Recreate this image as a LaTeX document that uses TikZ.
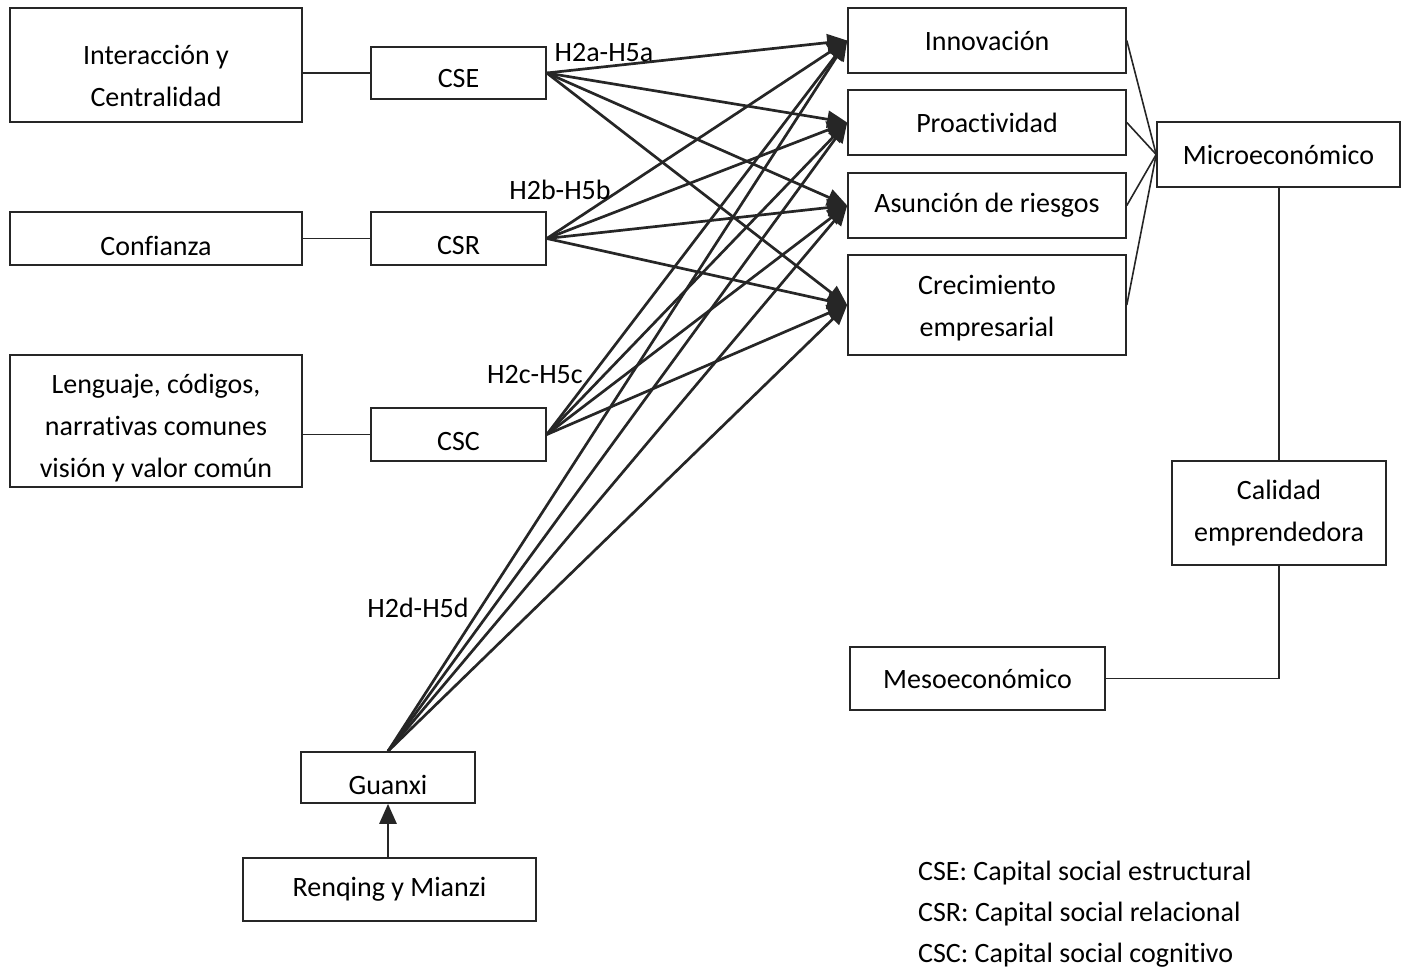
\documentclass[tikz,border=0pt]{standalone}
\usepackage{fontspec}
\setmainfont{Carlito}[Ligatures={NoCommon,NoContextual}]
\usetikzlibrary{arrows.meta}
\tikzset{
  box/.style={draw=black!85, line width=1.6pt, align=center, inner sep=2pt,
              font=\fontsize{28}{42}\selectfont},
  boxtext/.style={align=center, inner sep=0pt, font=\fontsize{28}{42}\selectfont},
  lbl/.style={font=\fontsize{28}{33}\selectfont, inner sep=0pt},
  link/.style={draw=black!85, line width=1.6pt},
  arr/.style={draw=black!85, line width=2.7pt, -{Triangle[length=20pt,width=17pt]}},
}
\begin{document}
\begin{tikzpicture}[x=1pt,y=-1pt]
\useasboundingbox (0,0) rectangle (1409,968);

% sources
\node[box, minimum width=292pt, minimum height=114pt,
      label={[boxtext, yshift=-11pt]center:Interacción y\\Centralidad}] (ic) at (156,65) {};
\node[box, minimum width=292pt, minimum height=53pt,
      label={[boxtext, yshift=-7pt]center:Confianza}] (conf) at (156,238.5) {};
\node[box, minimum width=292pt, minimum height=132pt,
      label={[boxtext, yshift=-7pt]center:Lenguaje, códigos,\\narrativas comunes\\visión y valor común}] (leng) at (156,421) {};

% dimensions of social capital
\node[box, minimum width=175pt, minimum height=52pt,
      label={[boxtext, yshift=-6pt]center:CSE}] (cse) at (458.5,73) {};
\node[box, minimum width=175pt, minimum height=53pt,
      label={[boxtext, yshift=-7pt]center:CSR}] (csr) at (458.5,238.5) {};
\node[box, minimum width=175pt, minimum height=53pt,
      label={[boxtext, yshift=-7pt]center:CSC}] (csc) at (458.5,434.5) {};
\node[box, minimum width=174pt, minimum height=51pt,
      label={[boxtext, yshift=-7pt]center:Guanxi}] (gx) at (388,777.5) {};
\node[box, minimum width=293pt, minimum height=63pt] (rm) at (389.5,889.5) {Renqing y Mianzi};

% outcomes
\node[box, minimum width=278pt, minimum height=65pt] (inn) at (987,40.5) {Innovación};
\node[box, minimum width=278pt, minimum height=65pt] (pro) at (987,122.5) {Proactividad};
\node[box, minimum width=278pt, minimum height=65pt] (asu) at (987,205.5) {Asunción de riesgos};
\node[box, minimum width=278pt, minimum height=100pt,
      label={[boxtext, yshift=-3pt]center:Crecimiento\\empresarial}] (cre) at (987,305) {};

\node[box, minimum width=243pt, minimum height=65pt] (mic) at (1278.5,154.5) {Microeconómico};
\node[box, minimum width=214pt, minimum height=104pt] (cal) at (1279,513) {Calidad\\emprendedora};
\node[box, minimum width=255pt, minimum height=63pt] (mes) at (977.5,678.5) {Mesoeconómico};

% plain links
\draw[link] (ic.east |- cse.west) -- (cse.west);
\draw[link] (conf.east) -- (csr.west);
\draw[link] (leng.east |- csc.west) -- (csc.west);
\foreach \t in {inn,pro,asu,cre} \draw[link] (\t.east) -- (mic.west);
\draw[link] (mic.south -| cal.north) -- (cal.north);
\draw[link] (cal.south) |- (mes.east);

% hypothesised effects
\foreach \s in {cse,csr,csc}
  \foreach \t in {inn,pro,asu,cre}
    \draw[arr] (\s.east) -- (\t.west);
\foreach \t in {inn,pro,asu,cre}
  \draw[arr] (gx.north) -- (\t.west);
\draw[arr] (rm.north -| gx.south) -- (gx.south);

% hypothesis labels
\node[lbl] (ha) at (604,53) {H2a-H5a};
\node[lbl] (hb) at (560,190) {H2b-H5b};
\node[lbl] (hc) at (535,375) {H2c-H5c};
\node[lbl] (hd) at (418,608) {H2d-H5d};

% legend
\node[lbl, anchor=west] (l1) at (918,873) {CSE: Capital social estructural};
\node[lbl, anchor=west] (l2) at (918,914) {CSR: Capital social relacional};
\node[lbl, anchor=west] (l3) at (918,955) {CSC: Capital social cognitivo};
\end{tikzpicture}
\end{document}
